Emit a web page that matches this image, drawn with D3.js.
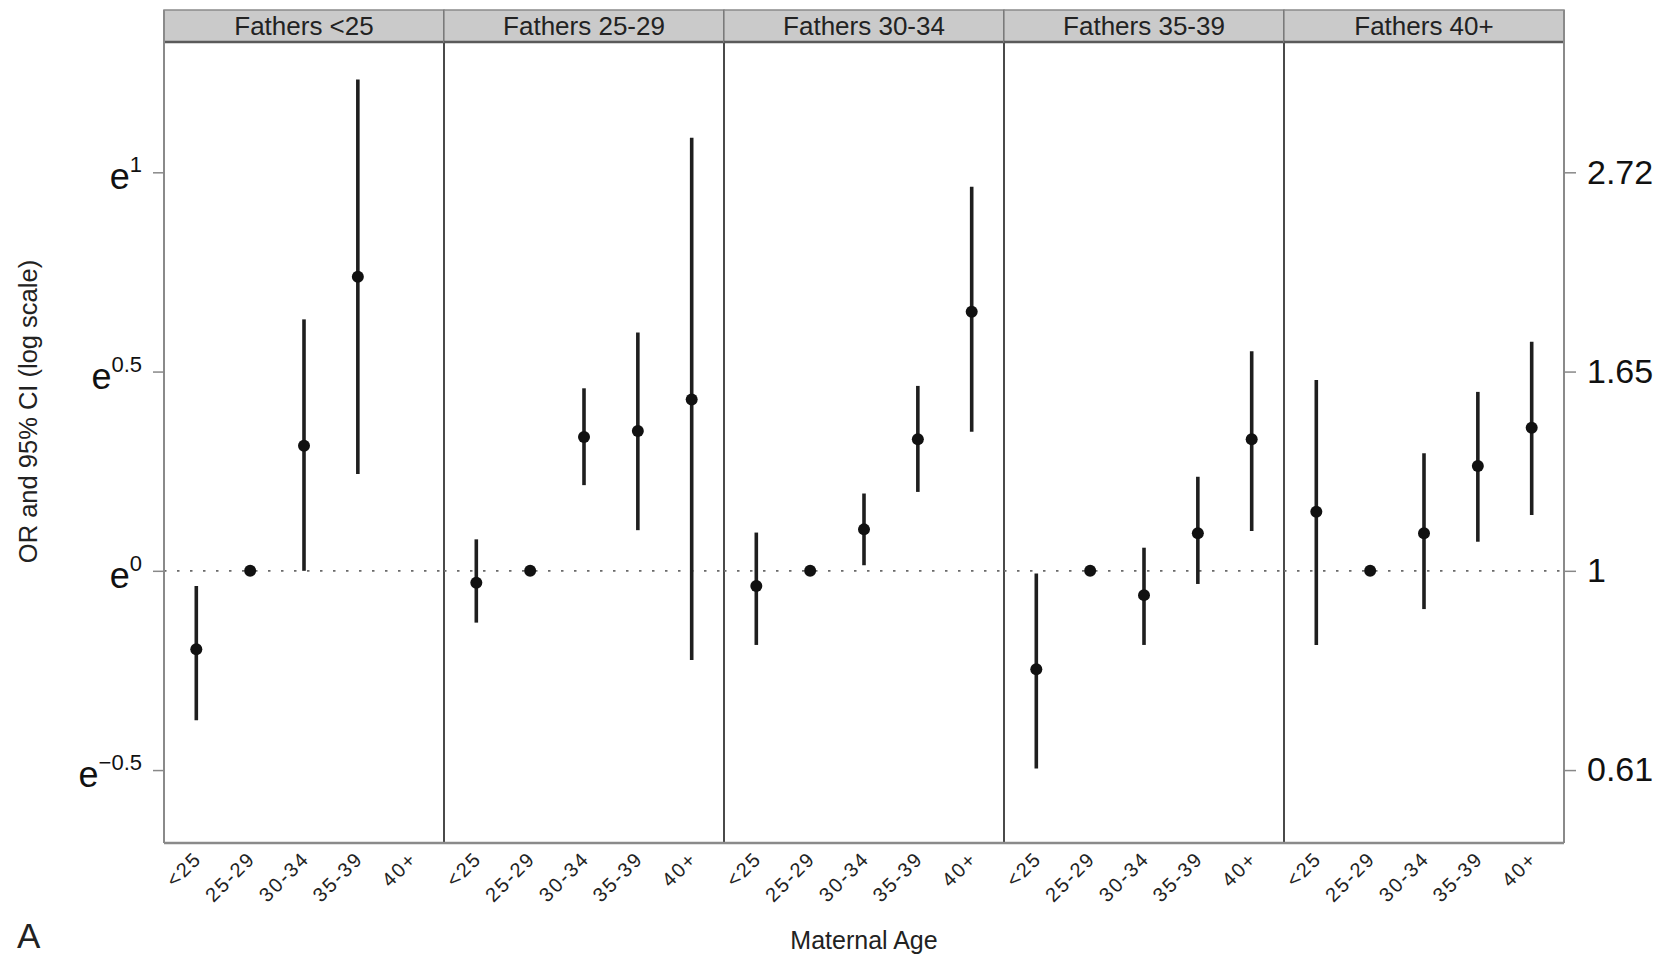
<!DOCTYPE html>
<html>
<head>
<meta charset="utf-8">
<script src="https://cdn.jsdelivr.net/npm/d3@7"></script>
<style>
  html, body { margin: 0; padding: 0; background: #ffffff; }
  svg { display: block; }
  text { font-family: "Liberation Sans", Arial, Helvetica, sans-serif; }
</style>
</head>
<body>
<script>
// ---------------- DATA ----------------
const fatherGroups = ["Fathers <25", "Fathers 25-29", "Fathers 30-34", "Fathers 35-39", "Fathers 40+"];
const maternalAges = ["<25", "25-29", "30-34", "35-39", "40+"];

// log odds ratios (point estimates), one array per paternal age panel; null = not shown
const estFathersLt25  = [-0.197, 0, 0.314, 0.738, null];
const estFathers25_29 = [-0.030, 0, 0.336, 0.351, 0.430];
const estFathers30_34 = [-0.038, 0, 0.104, 0.330, 0.650];
const estFathers35_39 = [-0.247, 0, -0.061, 0.094, 0.330];
const estFathers40p   = [0.148, 0, 0.094, 0.263, 0.359];

// lower 95% CI (log scale)
const lowFathersLt25  = [-0.375, null, 0.000, 0.243, null];
const lowFathers25_29 = [-0.130, null, 0.215, 0.102, -0.224];
const lowFathers30_34 = [-0.186, null, 0.014, 0.198, 0.349];
const lowFathers35_39 = [-0.496, null, -0.186, -0.033, 0.100];
const lowFathers40p   = [-0.186, null, -0.096, 0.073, 0.140];

// upper 95% CI (log scale)
const upFathersLt25  = [-0.038, null, 0.631, 1.233, null];
const upFathers25_29 = [0.079, null, 0.458, 0.598, 1.087];
const upFathers30_34 = [0.096, null, 0.194, 0.464, 0.964];
const upFathers35_39 = [-0.007, null, 0.058, 0.236, 0.551];
const upFathers40p   = [0.479, null, 0.295, 0.449, 0.575];

// axis ticks (log scale values) and labels
const logTicks = [-0.5, 0, 0.5, 1];
const leftTickExponents = ["\u22120.5", "0", "0.5", "1"];
const rightTickLabels = ["0.61", "1", "1.65", "2.72"];
const yDomain = [-0.683, 1.327];

const yTitle = "OR and 95% CI (log scale)";
const xTitle = "Maternal Age";
const panelTag = "A";

// ---------------- BUILD ----------------
const estimates = [estFathersLt25, estFathers25_29, estFathers30_34, estFathers35_39, estFathers40p];
const lowers = [lowFathersLt25, lowFathers25_29, lowFathers30_34, lowFathers35_39, lowFathers40p];
const uppers = [upFathersLt25, upFathers25_29, upFathers30_34, upFathers35_39, upFathers40p];

const W = 1669, H = 956;
const plotLeft = 164, plotRight = 1564;
const stripTop = 10, plotTop = 42, plotBottom = 843;

const svg = d3.select("body").append("svg")
  .attr("width", W).attr("height", H)
  .attr("viewBox", `0 0 ${W} ${H}`);

const panelScale = d3.scaleBand().domain(fatherGroups).range([plotLeft, plotRight]).padding(0);
const y = d3.scaleLinear().domain(yDomain).range([plotBottom, plotTop]);

// Panels
fatherGroups.forEach((g, gi) => {
  const x0 = panelScale(g), bw = panelScale.bandwidth();
  const x = d3.scalePoint().domain(maternalAges).range([x0, x0 + bw]).padding(0.6);
  const pg = svg.append("g").attr("class", "panel");

  // strip
  pg.append("rect")
    .attr("x", x0).attr("y", stripTop)
    .attr("width", bw).attr("height", plotTop - stripTop)
    .attr("fill", "#cacaca").attr("stroke", "#8a8a8a").attr("stroke-width", 1.5);
  pg.append("line")
    .attr("x1", x0).attr("x2", x0 + bw)
    .attr("y1", plotTop).attr("y2", plotTop)
    .attr("stroke", "#5a5a5a").attr("stroke-width", 2.5);
  pg.append("text")
    .attr("x", x0 + bw / 2).attr("y", 35)
    .attr("text-anchor", "middle")
    .attr("font-size", 26).attr("fill", "#222")
    .text(g);

  // reference dotted line at OR = 1
  pg.append("line")
    .attr("x1", x0).attr("x2", x0 + bw)
    .attr("y1", y(0)).attr("y2", y(0))
    .attr("stroke", "#6a6a6a").attr("stroke-width", 1.8)
    .attr("stroke-dasharray", "2.5,10.5");

  // CI segments
  const rows = maternalAges.map((m, i) => ({ m, est: estimates[gi][i], lo: lowers[gi][i], hi: uppers[gi][i] }));
  pg.selectAll("line.ci").data(rows.filter(d => d.lo !== null && d.hi !== null))
    .join("line").attr("class", "ci")
    .attr("x1", d => x(d.m)).attr("x2", d => x(d.m))
    .attr("y1", d => y(d.lo)).attr("y2", d => y(d.hi))
    .attr("stroke", "#1e1e1e").attr("stroke-width", 3.6);
  pg.selectAll("circle.pt").data(rows.filter(d => d.est !== null))
    .join("circle").attr("class", "pt")
    .attr("cx", d => x(d.m)).attr("cy", d => y(d.est))
    .attr("r", 6).attr("fill", "#111");

  // x axis tick labels (no tick marks)
  const xa = d3.axisBottom(x).tickSize(0).tickPadding(0);
  const axg = svg.append("g").attr("transform", `translate(0,${plotBottom})`).call(xa);
  axg.select(".domain").remove();
  axg.selectAll("text")
    .attr("font-size", 20).attr("fill", "#222")
    .attr("letter-spacing", "2px")
    .attr("text-anchor", "end")
    .attr("dy", null).attr("y", null)
    .attr("transform", "translate(6,17) rotate(-45)");

  // panel divider/border
  pg.append("line")
    .attr("x1", x0 + bw).attr("x2", x0 + bw)
    .attr("y1", stripTop).attr("y2", plotBottom)
    .attr("stroke", gi === fatherGroups.length - 1 ? "#8a8a8a" : "#4a4a4a")
    .attr("stroke-width", 2);
});

// outer left & bottom borders
svg.append("line").attr("x1", plotLeft).attr("x2", plotLeft)
  .attr("y1", stripTop).attr("y2", plotBottom)
  .attr("stroke", "#8a8a8a").attr("stroke-width", 2);
svg.append("line").attr("x1", plotLeft).attr("x2", plotRight)
  .attr("y1", plotBottom).attr("y2", plotBottom)
  .attr("stroke", "#8a8a8a").attr("stroke-width", 2.5);

// left axis (ticks only) + e^k labels
const leftAx = d3.axisLeft(y).tickValues(logTicks).tickFormat("").tickSize(11);
const lg = svg.append("g").attr("transform", `translate(${plotLeft},0)`).call(leftAx);
lg.select(".domain").remove();
lg.selectAll(".tick line").attr("stroke", "#888").attr("stroke-width", 1.5);

logTicks.forEach((v, i) => {
  const t = svg.append("text")
    .attr("x", 142).attr("y", y(v) + 17)
    .attr("text-anchor", "end").attr("fill", "#111");
  t.append("tspan").attr("font-size", 36).text("e");
  t.append("tspan").attr("font-size", 22).attr("dy", -17).text(leftTickExponents[i]);
});

// right axis
const rightAx = d3.axisRight(y).tickValues(logTicks)
  .tickFormat((d, i) => rightTickLabels[i]).tickSize(12).tickPadding(11);
const rg = svg.append("g").attr("transform", `translate(${plotRight},0)`).call(rightAx);
rg.select(".domain").remove();
rg.selectAll(".tick line").attr("stroke", "#888").attr("stroke-width", 1.5);
rg.selectAll(".tick text")
  .attr("font-size", 34).attr("fill", "#111")
  .attr("font-family", "\"Liberation Sans\", Arial, sans-serif");

// axis titles
svg.append("text")
  .attr("transform", `translate(37,${(plotTop + plotBottom) / 2 - 31}) rotate(-90)`)
  .attr("text-anchor", "middle")
  .attr("font-size", 25.5).attr("fill", "#222")
  .text(yTitle);

svg.append("text")
  .attr("x", (plotLeft + plotRight) / 2).attr("y", 949)
  .attr("text-anchor", "middle")
  .attr("font-size", 25).attr("fill", "#222")
  .text(xTitle);

svg.append("text")
  .attr("x", 17).attr("y", 948)
  .attr("font-size", 35).attr("fill", "#222")
  .text(panelTag);
</script>
</body>
</html>
